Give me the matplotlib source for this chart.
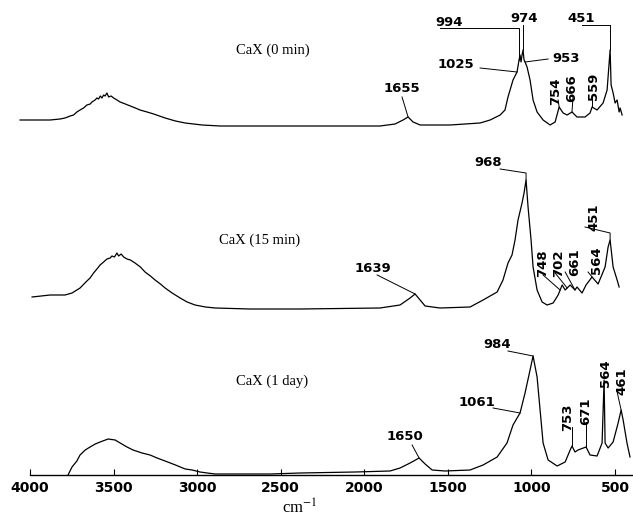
import numpy as np
import matplotlib
matplotlib.use("Agg")
import matplotlib.pyplot as plt

# ---------------- data (wavenumber cm-1, relative intensity) ----------------
wn_0min = [4060, 3880, 3820, 3791, 3760, 3740, 3720, 3701, 3680, 3660, 3640, 3630, 3611,
           3600, 3590, 3580, 3570, 3560, 3551, 3540, 3530, 3515, 3500, 3480,
           3461, 3430, 3400, 3370, 3342, 3300, 3260, 3192, 3130, 3072, 2970, 2863, 2384,
           1906, 1816, 1768, 1738, 1708,
           1666, 1487, 1307, 1247, 1187, 1158, 1140, 1110, 1086, 1074, 1068, 1062, 1056,
           1050, 1044, 1038, 1026, 1008, 990, 966, 930, 888, 858, 834, 810, 786, 757,
           727, 679, 649, 637, 607, 571, 547, 529, 523, 511, 499, 487, 475, 469, 457]
ab_0min = [6, 6, 7, 8, 10, 11, 14, 16, 18, 21, 22, 24, 26,
           28, 27, 30, 28, 31, 30, 33, 29, 30, 28, 26,
           24, 22, 20, 18, 16, 14, 12, 8, 5, 3, 1, 0, 0,
           0, 2, 6, 9, 4,
           1, 1, 3, 6, 11, 16, 29, 46, 54, 66, 71, 64, 71,
           76, 66, 64, 59, 46, 26, 14, 6, 1, 4, 19, 13, 11, 14,
           9, 9, 13, 19, 16, 23, 36, 76, 41, 33, 23, 26, 14, 18, 11]

wn_15min = [3988, 3880, 3791, 3749, 3701, 3660, 3641, 3620, 3600, 3581, 3560, 3540, 3521,
            3510, 3495, 3480, 3470, 3455, 3440, 3420, 3400, 3372, 3340, 3312, 3280, 3252,
            3220, 3192, 3150, 3102, 3060, 3013, 2950, 2893, 2684, 2384, 1906, 1786, 1726,
            1696, 1666, 1636, 1547, 1367, 1289, 1205, 1170, 1140, 1116, 1098, 1080, 1056,
            1044, 1032, 1020, 1002, 990, 966, 936, 906, 870, 840, 816, 798, 786, 768,
            739, 727, 697, 673, 637, 601, 559, 541, 529, 511, 487, 475]
ab_15min = [12, 14, 14, 16, 21, 28, 31, 36, 40, 44, 47, 50, 51,
            53, 52, 56, 53, 55, 52, 50, 49, 46, 42, 37, 33, 29,
            25, 21, 16, 11, 7, 4, 2, 1, 0, 0, 1, 4, 11,
            15, 9, 3, 1, 2, 9, 17, 29, 46, 54, 69, 89, 106,
            116, 129, 102, 69, 42, 19, 7, 4, 6, 14, 24, 19, 21, 24,
            19, 22, 16, 24, 32, 25, 42, 62, 69, 42, 29, 22]

wn_1day = [3773, 3749, 3720, 3701, 3670, 3641, 3610, 3581, 3533, 3491, 3461, 3420, 3384,
           3330, 3282, 3240, 3192, 3130, 3072, 3030, 2983, 2940,
           2893, 2564, 2384, 2055, 1846, 1786, 1726, 1672, 1636, 1594, 1517, 1367, 1289,
           1205, 1146, 1110, 1068, 1038, 1008, 990, 966, 948, 930, 900, 846, 798, 768,
           757, 739, 721, 673, 649, 607, 577, 565, 559, 541, 511, 481, 463, 451, 428, 410]
ab_1day = [0, 8, 14, 20, 25, 28, 31, 33, 36, 35, 32, 28, 25,
           22, 20, 17, 14, 10, 6, 5, 3, 2,
           1, 1, 2, 3, 4, 7, 12, 17, 11, 5, 4, 5, 10,
           18, 32, 50, 62, 82, 105, 119, 98, 65, 32, 15, 9, 13, 25,
           29, 23, 25, 28, 20, 19, 32, 95, 32, 27, 33, 52, 65, 55, 32, 18]

traces = [
    ("CaX (0 min)", wn_0min, ab_0min, 349),
    ("CaX (15 min)", wn_15min, ab_15min, 166),
    ("CaX (1 day)", wn_1day, ab_1day, 0),
]

# label text, peak wavenumber on trace, text position (wn, y), rotation,
# leader points (wn, y) leading to the peak
labels_0min = [("1655", 1738, (1774, 387), 0, [(1774, 378)]),
               ("1025", 1086, (1451, 410), 0, [(1307, 407)]),
               ("994", 1074, (1493, 453), 0, [(1547, 447), (1074, 447)]),
               ("974", 1050, (1044, 457), 0, [(1050, 450)]),
               ("953", 1038, (793, 416), 0, [(900, 416)]),
               ("451", 529, (703, 456), 0, [(697, 450), (529, 450)]),
               ("754", 834, (858, 384), 90, [(840, 375)]),
               ("666", 757, (757, 387), 90, [(751, 378)]),
               ("559", 637, (631, 389), 90, [(637, 380)])]
labels_15min = [("1639", 1696, (1947, 207), 0, [(1923, 200)]),
                ("968", 1032, (1259, 313), 0, [(1187, 306), (1032, 302)]),
                ("748", 828, (930, 212), 90, [(930, 200)]),
                ("702", 786, (840, 212), 90, [(858, 202)]),
                ("661", 739, (739, 213), 90, [(798, 203)]),
                ("564", 637, (613, 215), 90, [(661, 203)]),
                ("451", 529, (625, 258), 90, [(679, 248), (529, 242)])]
labels_1day = [("1650", 1672, (1756, 38), 0, [(1714, 30)]),
               ("1061", 1068, (1325, 72), 0, [(1229, 67)]),
               ("984", 990, (1205, 130), 0, [(1140, 124)]),
               ("753", 757, (781, 58), 90, [(757, 48)]),
               ("671", 673, (673, 64), 90, [(673, 53)]),
               ("564", 565, (559, 102), 90, []),
               ("461", 463, (457, 94), 90, [(487, 83)])]
all_labels = [labels_0min, labels_15min, labels_1day]

title_pos = [(2546, 425), (2624, 235), (2552, 94)]

xticks = [4000, 3500, 3000, 2500, 2000, 1500, 1000, 500]

# ---------------- figure ----------------
fig = plt.figure(figsize=(6.33, 5.18), dpi=100)
ax = fig.add_axes([0, 43 / 518, 1, 475 / 518])
ax.set_xlim(4180, 392)
ax.set_ylim(0, 475)

num_font = dict(family="DejaVu Sans", fontweight="bold", fontsize=9.5)

for (name, wn, ab, off), labs, tpos in zip(traces, all_labels, title_pos):
    wn = np.asarray(wn, float)
    ab = np.asarray(ab, float) + off
    ax.plot(wn, ab, color="black", lw=0.9, clip_on=False)
    ax.text(tpos[0], tpos[1], name, family="Liberation Serif", fontsize=10.5,
            ha="center", va="center")
    order = np.argsort(wn)
    for txt, pk, (tx, ty), rot, pts in labs:
        py = np.interp(pk, wn[order], ab[order])
        ax.text(tx, ty, txt, rotation=rot, ha="center", va="center", **num_font)
        if pts:
            xs = [p[0] for p in pts] + [pk]
            ys = [p[1] for p in pts] + [py]
            ax.plot(xs, ys, color="black", lw=0.7, clip_on=False)

for s in ["top", "left", "right"]:
    ax.spines[s].set_visible(False)
ax.spines["bottom"].set_bounds(4000, 392)
ax.spines["bottom"].set_linewidth(1.0)
ax.set_yticks([])
ax.set_xticks(xticks)
ax.set_xticklabels([str(t) for t in xticks], family="DejaVu Sans",
                   fontweight="bold", fontsize=10)
ax.tick_params(axis="x", direction="in", length=4, width=0.8, pad=4)

fig.text(300 / 633, 1 - 508 / 518, "cm$^{-1}$", family="Liberation Serif",
         fontsize=12, ha="center", va="center", math_fontfamily="stix")

fig.savefig("out.png", dpi=100)
